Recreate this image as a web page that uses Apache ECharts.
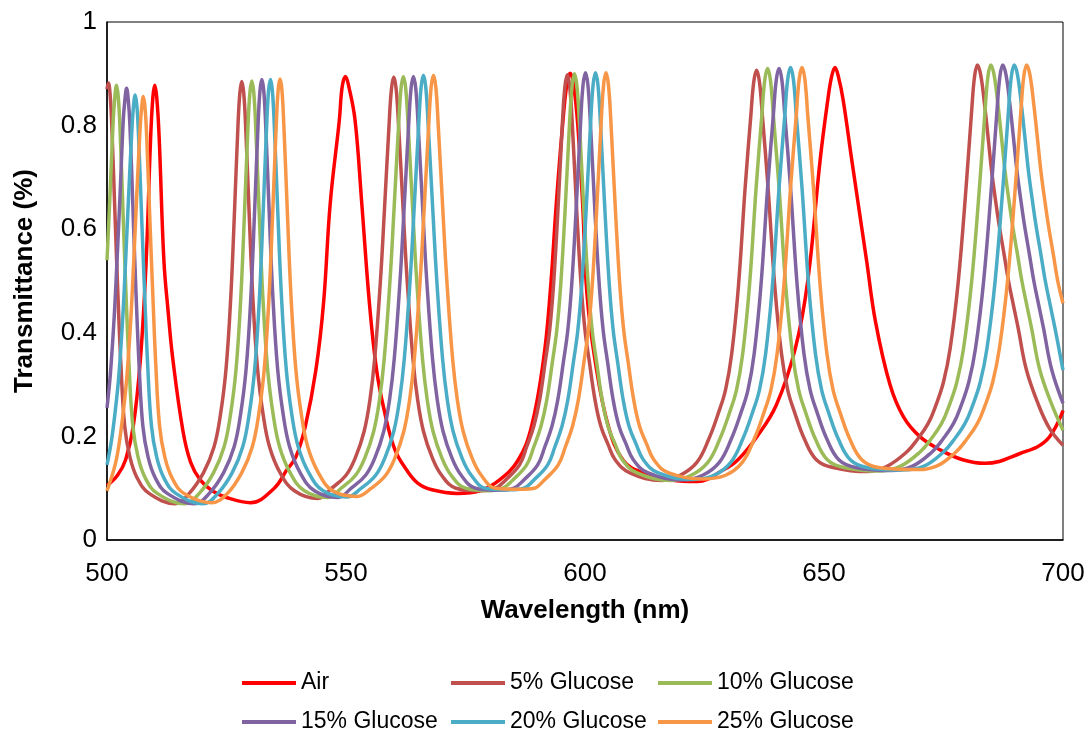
<!DOCTYPE html>
<html>
<head>
<meta charset="utf-8">
<title>Transmittance spectra</title>
<script src="https://cdn.jsdelivr.net/npm/echarts@6/dist/echarts.min.js"></script>
<style>
  html, body { margin: 0; padding: 0; background: #fff; }
  #main { width: 1088px; height: 731px; }
</style>
</head>
<body>
<div id="main"></div>
<script>
// [wavelength (nm), transmittance]
var air = [
  [500,0.105],[502.2,0.125],[503.9,0.155],[505.5,0.22],[507.0,0.35],[508.2,0.54],[509.1,0.77],[509.6,0.855],[510.0,0.878],[510.4,0.855],[510.9,0.78],[511.9,0.54],[512.8,0.44],[513.8,0.347],[515.9,0.21],[517.5,0.15],[519.5,0.116],[522.0,0.095],[525.0,0.082],[530.0,0.072],
  [535.0,0.10],[537.6,0.135],[539.5,0.16],[541.5,0.22],[543.7,0.328],[545.3,0.457],[546.7,0.65],[548.6,0.81],[549.2,0.875],[549.9,0.895],[550.6,0.875],
  [551.9,0.81],[553.3,0.65],[554.9,0.457],[556.4,0.328],[558.0,0.25],[560.2,0.175],[562.7,0.135],[565.0,0.11],[568.0,0.097],[573.3,0.09],
  [578.0,0.095],[582.0,0.115],[586.0,0.154],[588.8,0.219],[591.3,0.347],[592.7,0.476],[594.0,0.65],[595.3,0.80],[596.2,0.88],[596.9,0.901],[597.6,0.88],
  [598.5,0.80],[599.5,0.65],[600.4,0.476],[602.1,0.347],[604.9,0.219],[608.0,0.154],[612.0,0.13],[618.0,0.116],[623.5,0.113],
  [628.9,0.135],[632.0,0.155],[636.0,0.20],[640.0,0.26],[644.0,0.37],[646.6,0.50],[649.2,0.734],[650.8,0.85],[651.6,0.895],[652.3,0.912],[653.0,0.895],
  [654.0,0.85],[655.8,0.734],[658.9,0.54],[660.8,0.42],[663.8,0.30],[666.6,0.238],[670.0,0.20],[674.3,0.174],[679.0,0.155],[683.7,0.148],[691.0,0.167],[696.6,0.193],[700,0.25]
];

var glucose5 = [
  [500,0.87],[500.3,0.882],[500.65,0.86],[501.0,0.80],[501.7,0.62],[502.3,0.47],[502.9,0.34],[503.7,0.22],[504.8,0.16],[506.3,0.12],[508.8,0.09],[514.3,0.07],
  [517.2,0.09],[520.2,0.13],[522.4,0.18],[523.7,0.24],[524.9,0.33],[525.9,0.47],[526.7,0.64],[527.4,0.80],[527.8,0.863],[528.2,0.885],[528.6,0.863],
  [529.0,0.80],[529.7,0.64],[530.5,0.47],[531.5,0.33],[532.7,0.24],[534.0,0.18],[536.2,0.13],[539.2,0.095],[544.1,0.08],
  [547.0,0.10],[550.0,0.125],[552.0,0.16],[553.8,0.21],[555.0,0.27],[556.0,0.35],[557.2,0.50],[558.0,0.63],[559.0,0.80],[559.5,0.87],[560.0,0.894],[560.5,0.87],
  [561.0,0.80],[562.0,0.63],[562.8,0.50],[564.0,0.35],[565.0,0.27],[566.2,0.21],[568.0,0.16],[570.0,0.125],[573.0,0.10],[578.2,0.095],
  [581.3,0.10],[583.3,0.115],[586.3,0.145],[587.8,0.18],[589.3,0.22],[590.5,0.27],[591.7,0.345],[592.6,0.405],[593.4,0.49],[594.3,0.63],[595.3,0.81],[595.8,0.875],[596.3,0.898],[596.8,0.875],
  [597.3,0.81],[598.3,0.63],[599.2,0.49],[600.0,0.405],[600.9,0.345],[602.1,0.27],[603.3,0.22],[604.8,0.185],[606.3,0.155],[609.3,0.13],[616.1,0.115],
  [619.9,0.125],[623.4,0.15],[625.9,0.195],[627.9,0.245],[629.4,0.29],[630.7,0.36],[632.1,0.49],[633.5,0.68],[634.7,0.82],[635.3,0.884],[635.9,0.907],[636.5,0.884],
  [637.1,0.82],[638.3,0.68],[639.7,0.49],[641.1,0.36],[642.4,0.29],[643.9,0.245],[645.9,0.195],[648.4,0.155],[651.9,0.14],[659.0,0.132],
  [663.1,0.142],[667.3,0.17],[669.6,0.195],[671.8,0.225],[673.4,0.26],[675.0,0.305],[676.4,0.37],[678.1,0.50],[679.8,0.69],[680.9,0.83],[681.5,0.895],[682.1,0.917],
  [682.8,0.897],[683.6,0.84],[684.3,0.78],[685.1,0.71],[685.9,0.655],[686.6,0.61],[687.7,0.55],[688.6,0.50],[689.7,0.45],[690.6,0.41],[692.3,0.33],[694.7,0.265],[697.2,0.215],[700,0.183]
];

var glucose10 = [
  [500,0.54],[500.6,0.66],[501.3,0.81],[501.65,0.856],[502.0,0.878],[502.35,0.856],[502.7,0.80],[503.4,0.62],[504.0,0.47],[504.6,0.34],[505.4,0.22],[506.5,0.16],[508.0,0.12],[510.5,0.09],[516.2,0.07],
  [519.3,0.09],[522.3,0.13],[524.5,0.18],[525.8,0.24],[527.0,0.33],[528.0,0.47],[528.8,0.64],[529.5,0.80],[529.9,0.864],[530.3,0.886],[530.7,0.864],
  [531.1,0.80],[531.8,0.64],[532.6,0.47],[533.6,0.33],[534.8,0.24],[536.1,0.18],[538.3,0.13],[541.3,0.095],[546.2,0.082],
  [549.0,0.10],[552.0,0.125],[554.0,0.16],[555.8,0.21],[557.0,0.27],[558.0,0.35],[559.2,0.50],[560.0,0.63],[561.0,0.80],[561.5,0.871],[562.0,0.895],[562.5,0.871],
  [563.0,0.80],[564.0,0.63],[564.8,0.50],[566.0,0.35],[567.0,0.27],[568.2,0.21],[570.0,0.16],[572.0,0.125],[575.0,0.10],[579.9,0.095],
  [582.8,0.10],[584.8,0.115],[587.8,0.145],[589.3,0.18],[590.8,0.22],[592.0,0.27],[593.2,0.345],[594.1,0.405],[594.9,0.49],[595.8,0.63],[596.8,0.81],[597.3,0.877],[597.8,0.90],[598.3,0.877],
  [598.8,0.81],[599.8,0.63],[600.7,0.49],[601.5,0.405],[602.4,0.345],[603.6,0.27],[604.8,0.22],[606.3,0.185],[607.8,0.155],[610.8,0.13],[618.0,0.115],
  [622.2,0.125],[625.7,0.15],[628.2,0.195],[630.2,0.245],[631.7,0.29],[633.0,0.36],[634.4,0.49],[635.8,0.68],[637.0,0.82],[637.6,0.887],[638.2,0.91],[638.8,0.887],
  [639.4,0.82],[640.6,0.68],[642.0,0.49],[643.4,0.36],[644.7,0.29],[646.2,0.245],[648.2,0.195],[650.7,0.155],[654.2,0.14],[661.6,0.133],
  [665.9,0.142],[670.1,0.17],[672.4,0.195],[674.6,0.225],[676.2,0.26],[677.8,0.305],[679.2,0.37],[680.9,0.50],[682.6,0.69],[683.7,0.83],[684.3,0.895],[684.9,0.917],
  [685.6,0.897],[686.4,0.84],[687.1,0.78],[687.9,0.71],[688.7,0.655],[689.4,0.61],[690.5,0.55],[691.4,0.50],[692.5,0.45],[693.4,0.41],[695.1,0.33],[697.5,0.265],[700,0.212]
];

var glucose15 = [
  [500,0.255],[500.7,0.32],[501.5,0.43],[502.1,0.54],[502.7,0.66],[503.4,0.81],[503.75,0.85],[504.1,0.872],[504.45,0.85],[504.8,0.80],[505.5,0.62],[506.1,0.47],[506.7,0.34],[507.5,0.22],[508.6,0.16],[510.1,0.12],[512.6,0.09],[518.3,0.07],
  [521.4,0.09],[524.4,0.13],[526.6,0.18],[527.9,0.24],[529.1,0.33],[530.1,0.47],[530.9,0.64],[531.6,0.80],[532.0,0.867],[532.4,0.889],[532.8,0.867],
  [533.2,0.80],[533.9,0.64],[534.7,0.47],[535.7,0.33],[536.9,0.24],[538.2,0.18],[540.4,0.13],[543.4,0.095],[548.3,0.082],
  [551.1,0.10],[554.1,0.125],[556.1,0.16],[557.9,0.21],[559.1,0.27],[560.1,0.35],[561.3,0.50],[562.1,0.63],[563.1,0.80],[563.6,0.871],[564.1,0.895],[564.6,0.871],
  [565.1,0.80],[566.1,0.63],[566.9,0.50],[568.1,0.35],[569.1,0.27],[570.3,0.21],[572.1,0.16],[574.1,0.125],[577.1,0.10],[582.1,0.096],
  [585.1,0.10],[587.1,0.115],[590.1,0.145],[591.6,0.18],[593.1,0.22],[594.3,0.27],[595.5,0.345],[596.4,0.405],[597.2,0.49],[598.1,0.63],[599.1,0.81],[599.6,0.879],[600.1,0.902],[600.6,0.879],
  [601.1,0.81],[602.1,0.63],[603.0,0.49],[603.8,0.405],[604.7,0.345],[605.9,0.27],[607.1,0.22],[608.6,0.185],[610.1,0.155],[613.1,0.13],[620.4,0.116],
  [624.6,0.125],[628.1,0.15],[630.6,0.195],[632.6,0.245],[634.1,0.29],[635.4,0.36],[636.8,0.49],[638.2,0.68],[639.4,0.82],[640.0,0.887],[640.6,0.91],[641.2,0.887],
  [641.8,0.82],[643.0,0.68],[644.4,0.49],[645.8,0.36],[647.1,0.29],[648.6,0.245],[650.6,0.195],[653.1,0.155],[656.6,0.14],[664.0,0.134],
  [668.4,0.142],[672.6,0.17],[674.9,0.195],[677.1,0.225],[678.7,0.26],[680.3,0.305],[681.7,0.37],[683.4,0.50],[685.1,0.69],[686.2,0.83],[686.8,0.895],[687.4,0.917],
  [688.1,0.897],[688.9,0.84],[689.6,0.78],[690.4,0.71],[691.2,0.655],[691.9,0.61],[693.0,0.55],[693.9,0.50],[695.0,0.45],[695.9,0.41],[697.6,0.33],[700,0.264]
];

var glucose20 = [
  [500,0.145],[500.9,0.19],[501.8,0.255],[502.5,0.32],[503.3,0.43],[503.9,0.54],[504.5,0.66],[505.2,0.79],[505.55,0.838],[505.9,0.859],[506.25,0.838],[506.6,0.78],[507.3,0.61],[507.9,0.47],[508.5,0.34],[509.3,0.22],[510.4,0.16],[511.9,0.12],[514.4,0.09],[520.1,0.07],
  [523.2,0.09],[526.2,0.13],[528.4,0.18],[529.7,0.24],[530.9,0.33],[531.9,0.47],[532.7,0.64],[533.4,0.80],[533.8,0.867],[534.2,0.889],[534.6,0.867],
  [535.0,0.80],[535.7,0.64],[536.5,0.47],[537.5,0.33],[538.7,0.24],[540.0,0.18],[542.2,0.13],[545.2,0.095],[550.2,0.083],
  [553.2,0.10],[556.2,0.125],[558.2,0.16],[560.0,0.21],[561.2,0.27],[562.2,0.35],[563.4,0.50],[564.2,0.63],[565.2,0.80],[565.7,0.873],[566.2,0.897],[566.7,0.873],
  [567.2,0.80],[568.2,0.63],[569.0,0.50],[570.2,0.35],[571.2,0.27],[572.4,0.21],[574.2,0.16],[576.2,0.125],[579.2,0.10],[584.2,0.097],
  [587.2,0.10],[589.2,0.115],[592.2,0.145],[593.7,0.18],[595.2,0.22],[596.4,0.27],[597.6,0.345],[598.5,0.405],[599.3,0.49],[600.2,0.63],[601.2,0.81],[601.7,0.879],[602.2,0.902],[602.7,0.879],
  [603.2,0.81],[604.2,0.63],[605.1,0.49],[605.9,0.405],[606.8,0.345],[608.0,0.27],[609.2,0.22],[610.7,0.185],[612.2,0.155],[615.2,0.13],[622.6,0.117],
  [627.0,0.125],[630.5,0.15],[633.0,0.195],[635.0,0.245],[636.5,0.29],[637.8,0.36],[639.2,0.49],[640.6,0.68],[641.8,0.82],[642.4,0.889],[643.0,0.912],[643.6,0.889],
  [644.2,0.82],[645.4,0.68],[646.8,0.49],[648.2,0.36],[649.5,0.29],[651.0,0.245],[653.0,0.195],[655.5,0.155],[659.0,0.14],[666.4,0.135],
  [670.8,0.142],[675.0,0.17],[677.3,0.195],[679.5,0.225],[681.1,0.26],[682.7,0.305],[684.1,0.37],[685.8,0.50],[687.5,0.69],[688.6,0.83],[689.2,0.895],[689.8,0.917],
  [690.5,0.897],[691.3,0.84],[692.0,0.78],[692.8,0.71],[693.6,0.655],[694.3,0.61],[695.4,0.55],[696.3,0.50],[697.4,0.45],[698.3,0.41],[700,0.328]
];

var glucose25 = [
  [500,0.095],[501.7,0.145],[502.6,0.19],[503.5,0.255],[504.2,0.32],[505.0,0.43],[505.6,0.54],[506.2,0.66],[506.9,0.79],[507.25,0.835],[507.6,0.856],[507.95,0.835],[508.3,0.78],[509.0,0.61],[509.6,0.47],[510.2,0.34],[511.0,0.22],[512.1,0.16],[513.6,0.12],[516.1,0.09],[521.9,0.072],
  [525.2,0.09],[528.2,0.13],[530.4,0.18],[531.7,0.24],[532.9,0.33],[533.9,0.47],[534.7,0.64],[535.4,0.80],[535.8,0.868],[536.2,0.89],[536.6,0.868],
  [537.0,0.80],[537.7,0.64],[538.5,0.47],[539.5,0.33],[540.7,0.24],[542.0,0.18],[544.2,0.13],[547.2,0.095],[552.3,0.084],
  [555.3,0.10],[558.3,0.125],[560.3,0.16],[562.1,0.21],[563.3,0.27],[564.3,0.35],[565.5,0.50],[566.3,0.63],[567.3,0.80],[567.8,0.873],[568.3,0.897],[568.8,0.873],
  [569.3,0.80],[570.3,0.63],[571.1,0.50],[572.3,0.35],[573.3,0.27],[574.5,0.21],[576.3,0.16],[578.3,0.125],[581.3,0.10],[586.4,0.098],
  [589.4,0.10],[591.4,0.115],[594.4,0.145],[595.9,0.18],[597.4,0.22],[598.6,0.27],[599.8,0.345],[600.7,0.405],[601.5,0.49],[602.4,0.63],[603.4,0.81],[603.9,0.879],[604.4,0.902],[604.9,0.879],
  [605.4,0.81],[606.4,0.63],[607.3,0.49],[608.1,0.405],[609.0,0.345],[610.2,0.27],[611.4,0.22],[612.9,0.185],[614.4,0.155],[617.4,0.13],[624.9,0.118],
  [629.4,0.125],[632.9,0.15],[635.4,0.195],[637.4,0.245],[638.9,0.29],[640.2,0.36],[641.6,0.49],[643.0,0.68],[644.2,0.82],[644.8,0.889],[645.4,0.912],[646.0,0.889],
  [646.6,0.82],[647.8,0.68],[649.2,0.49],[650.6,0.36],[651.9,0.29],[653.4,0.245],[655.4,0.195],[657.9,0.155],[661.4,0.14],[668.9,0.136],
  [673.4,0.142],[677.6,0.17],[679.9,0.195],[682.1,0.225],[683.7,0.26],[685.3,0.305],[686.7,0.37],[688.4,0.50],[690.1,0.69],[691.2,0.83],[691.8,0.895],[692.4,0.917],
  [693.1,0.897],[693.9,0.84],[694.6,0.78],[695.4,0.71],[696.2,0.655],[696.9,0.61],[698.0,0.55],[698.9,0.50],[700,0.457]
];

var seriesNames = ['Air', '5% Glucose', '10% Glucose', '15% Glucose', '20% Glucose', '25% Glucose'];
var seriesData = [air, glucose5, glucose10, glucose15, glucose20, glucose25];
var seriesColors = ['#FF0000', '#C0504D', '#9BBB59', '#8064A2', '#4BACC6', '#F79646'];

var font = '"Liberation Sans", Arial, sans-serif';

var myChart = echarts.init(document.getElementById('main'), null, { renderer: 'canvas' });

// legend laid out as a 3 x 2 table, one legend per entry
var legendLeft = [242, 451, 658, 242, 451, 658];
var legendTop = [670, 670, 670, 709, 709, 709];
var legends = seriesNames.map(function (name, i) {
  return {
    data: [name],
    left: legendLeft[i],
    top: legendTop[i],
    padding: 0,
    itemWidth: 54,
    itemHeight: 4,
    icon: 'rect',
    textStyle: { fontFamily: font, fontSize: 23, color: '#000', lineHeight: 26 }
  };
});

myChart.setOption({
  animation: false,
  backgroundColor: '#fff',
  grid: {
    left: 107, right: 25, top: 22, bottom: 191,
    show: true, borderColor: '#000', borderWidth: 1
  },
  legend: legends,
  xAxis: {
    type: 'value',
    min: 500, max: 700, interval: 50,
    name: 'Wavelength (nm)',
    nameLocation: 'middle',
    nameGap: 58,
    nameTextStyle: { fontFamily: font, fontSize: 26, fontWeight: 'bold', color: '#000' },
    axisLine: { show: true, lineStyle: { color: '#000', width: 1.5 } },
    axisTick: { show: false },
    splitLine: { show: false },
    axisLabel: { fontFamily: font, fontSize: 26, color: '#000', margin: 21 }
  },
  yAxis: {
    type: 'value',
    min: 0, max: 1, interval: 0.2,
    name: 'Transmittance (%)',
    nameLocation: 'middle',
    nameGap: 69,
    nameTextStyle: { fontFamily: font, fontSize: 26, fontWeight: 'bold', color: '#000' },
    axisLine: { show: true, lineStyle: { color: '#000', width: 1.5 } },
    axisTick: { show: false },
    splitLine: { show: false },
    axisLabel: { fontFamily: font, fontSize: 26, color: '#000', margin: 10 }
  },
  series: seriesNames.map(function (name, i) {
    return {
      name: name,
      type: 'line',
      data: seriesData[i],
      showSymbol: false,
      symbol: 'none',
      smooth: 0.4,
      clip: true,
      lineStyle: { color: seriesColors[i], width: 3.5 },
      itemStyle: { color: seriesColors[i] }
    };
  })
});
</script>
</body>
</html>
